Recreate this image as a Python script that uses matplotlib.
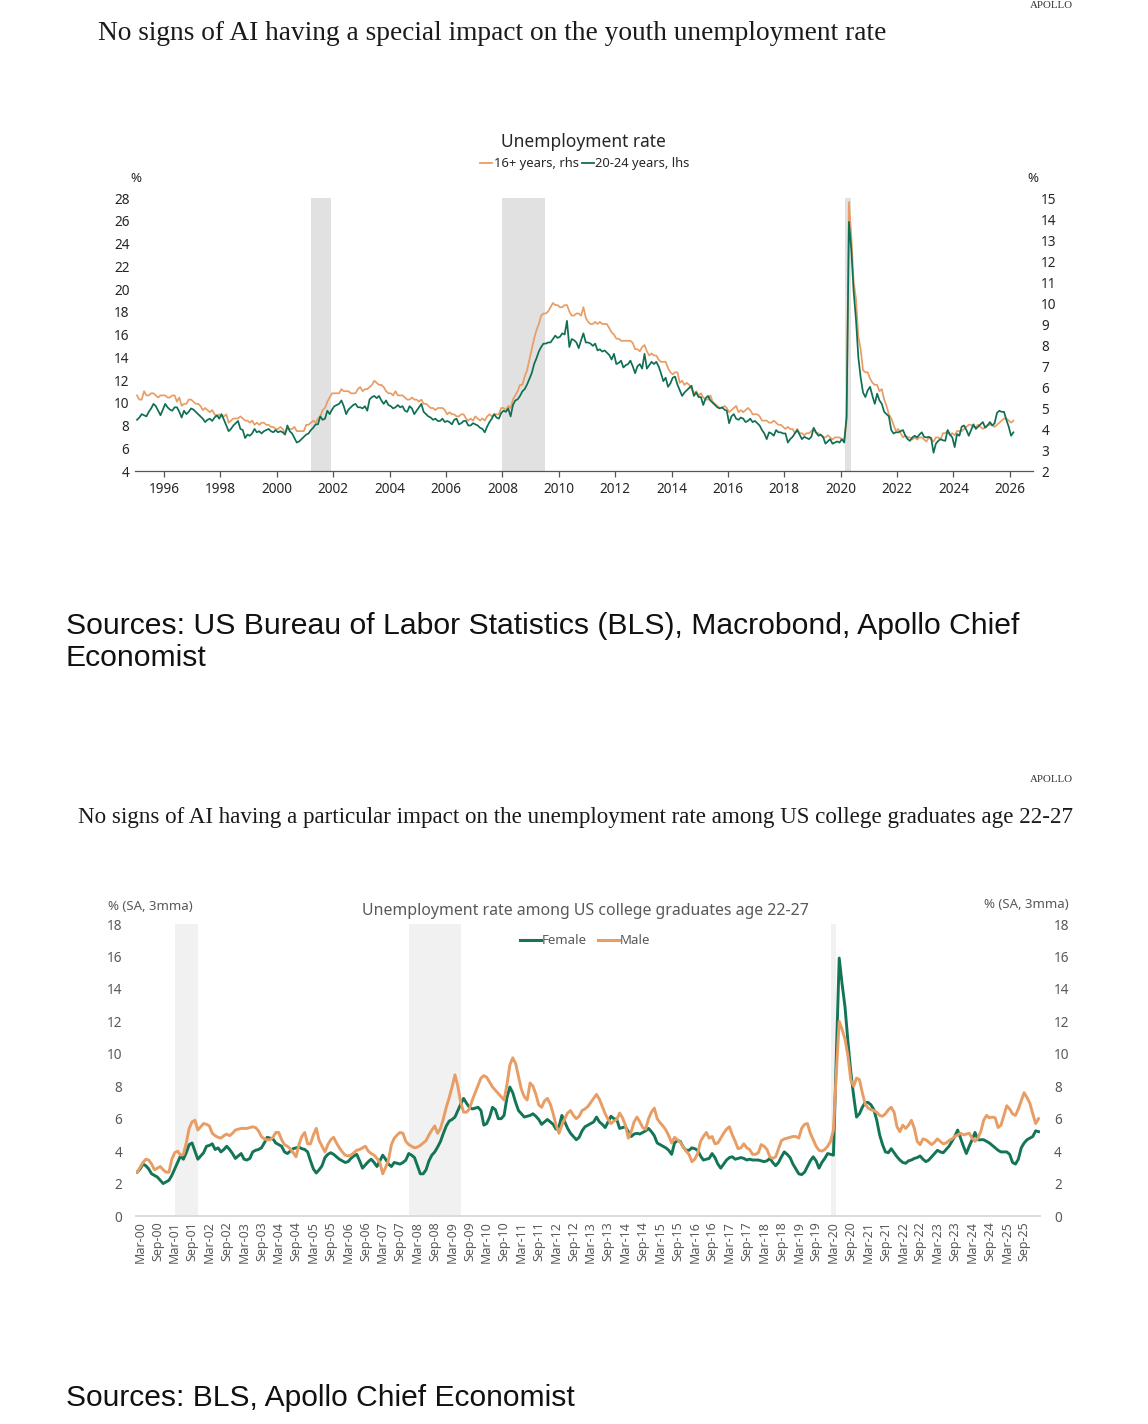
import matplotlib
matplotlib.use('Agg')
import matplotlib.pyplot as plt
from matplotlib.lines import Line2D
import numpy as np
import pandas as pd

# ---------------- DATA ----------------
# Chart 1: monthly, Jan 1995 - Feb 2026
start1 = "1995-01"
u16plus = [  # unemployment rate 16+ years (rhs)
    5.6,5.4,5.4,5.8,5.6,5.6,5.7,5.7,5.6,5.5,5.6,5.6,
    5.6,5.5,5.5,5.6,5.6,5.3,5.5,5.1,5.2,5.2,5.4,5.4,
    5.3,5.2,5.2,5.1,4.9,5.0,4.9,4.8,4.9,4.7,4.6,4.7,
    4.6,4.6,4.7,4.3,4.4,4.5,4.5,4.5,4.6,4.5,4.4,4.4,
    4.3,4.4,4.2,4.3,4.2,4.3,4.3,4.2,4.2,4.1,4.1,4.0,
    4.0,4.1,4.0,3.8,4.0,4.0,4.0,4.1,3.9,3.9,3.9,3.9,
    4.2,4.2,4.3,4.4,4.3,4.5,4.6,4.9,5.0,5.3,5.5,5.7,
    5.7,5.7,5.7,5.9,5.8,5.8,5.8,5.7,5.7,5.7,5.9,6.0,
    5.8,5.9,5.9,6.0,6.1,6.3,6.2,6.1,6.1,6.0,5.8,5.7,
    5.7,5.6,5.8,5.6,5.6,5.6,5.5,5.4,5.4,5.5,5.4,5.4,
    5.3,5.4,5.2,5.2,5.1,5.0,5.0,4.9,5.0,5.0,5.0,4.9,
    4.7,4.8,4.7,4.7,4.6,4.6,4.7,4.7,4.5,4.4,4.5,4.4,
    4.6,4.5,4.4,4.5,4.4,4.6,4.7,4.6,4.7,4.7,4.7,5.0,
    5.0,4.9,5.1,5.0,5.4,5.6,5.8,6.1,6.1,6.5,6.8,7.3,
    7.8,8.3,8.7,9.0,9.4,9.5,9.5,9.6,9.8,10.0,9.9,9.9,
    9.8,9.8,9.9,9.9,9.6,9.4,9.4,9.5,9.5,9.4,9.8,9.3,
    9.1,9.0,9.0,9.1,9.0,9.1,9.0,9.0,9.0,8.8,8.6,8.5,
    8.3,8.3,8.2,8.2,8.2,8.2,8.2,8.1,7.8,7.8,7.7,7.9,
    8.0,7.7,7.5,7.6,7.5,7.5,7.3,7.2,7.2,7.2,6.9,6.7,
    6.6,6.7,6.7,6.2,6.3,6.1,6.2,6.1,5.9,5.7,5.8,5.6,
    5.7,5.5,5.4,5.4,5.6,5.3,5.2,5.1,5.0,5.0,5.1,5.0,
    4.8,4.9,5.0,5.1,4.8,4.9,4.8,4.9,5.0,4.9,4.7,4.7,
    4.7,4.6,4.4,4.4,4.4,4.3,4.3,4.4,4.3,4.2,4.2,4.1,
    4.0,4.1,4.0,4.0,3.8,4.0,3.8,3.8,3.7,3.8,3.8,3.9,
    4.0,3.8,3.8,3.7,3.6,3.6,3.7,3.6,3.5,3.6,3.6,3.6,
    3.5,3.5,4.4,14.8,13.2,11.0,10.2,8.4,7.8,6.8,6.7,6.7,
    6.4,6.2,6.1,6.1,5.8,5.9,5.4,5.1,4.7,4.5,4.2,3.9,
    4.0,3.8,3.6,3.7,3.6,3.6,3.5,3.6,3.5,3.6,3.6,3.5,
    3.4,3.6,3.5,3.4,3.6,3.6,3.5,3.8,3.8,3.9,3.7,3.8,
    3.7,3.9,3.9,3.9,4.0,4.1,4.2,4.2,4.1,4.1,4.2,4.1,
    4.0,4.1,4.2,4.2,4.2,4.1,4.2,4.3,4.4,4.5,4.5,4.4,
    4.3,4.4,
]
u20_24 = [  # unemployment rate 20-24 years (lhs)
    8.5,8.7,9.0,8.9,8.8,9.2,9.5,9.9,9.7,9.3,8.9,9.4,
    9.9,9.6,9.4,9.3,9.6,9.6,9.2,8.7,9.3,9.0,9.2,9.5,
    9.4,9.2,9.0,8.8,8.6,8.3,8.5,8.6,8.4,8.7,8.9,8.6,
    9.0,8.5,8.0,7.5,7.7,8.0,8.2,8.4,7.7,7.6,6.9,7.2,
    7.1,7.3,7.7,7.4,7.5,7.3,7.5,7.6,7.7,7.5,7.4,7.6,
    7.4,7.5,7.4,7.2,8.0,7.5,7.3,6.9,6.5,6.6,6.8,7.0,
    7.2,7.3,7.6,7.8,8.1,8.1,8.8,8.5,8.6,9.3,9.0,9.4,
    9.7,9.8,9.9,10.2,9.7,9.0,9.4,9.6,9.8,9.9,9.6,9.6,
    9.5,9.7,9.3,10.3,10.5,10.6,10.4,10.6,10.2,9.9,10.2,9.8,
    9.7,9.5,9.6,9.8,9.6,9.7,9.3,9.2,9.7,9.5,9.0,9.3,
    9.6,9.9,9.2,9.0,8.8,8.7,8.5,8.6,8.4,8.4,8.6,8.3,
    8.4,8.3,8.1,8.5,8.6,8.1,8.2,8.4,8.4,8.0,8.0,8.2,
    8.1,8.0,7.8,7.7,7.4,7.9,8.3,8.6,9.0,8.7,8.6,9.1,
    9.3,9.2,9.5,8.8,9.8,10.2,10.3,10.6,11.0,11.2,11.6,12.1,
    12.6,13.4,13.9,14.5,14.9,15.2,15.2,15.3,15.3,15.6,15.9,15.7,
    15.8,16.1,16.0,17.2,14.9,15.6,15.5,15.3,14.8,15.5,16.1,15.3,
    15.3,15.2,15.0,15.2,14.6,14.7,14.5,14.6,14.4,14.2,13.8,14.3,
    13.4,13.5,13.7,13.1,13.3,13.4,13.7,13.2,12.6,13.2,13.4,13.0,
    14.3,13.0,13.3,13.6,13.4,13.6,13.2,12.6,11.9,12.2,11.4,11.7,
    12.2,12.3,11.6,11.1,10.6,10.9,11.1,11.3,11.5,10.6,10.9,10.5,
    10.5,9.8,10.4,10.6,10.2,10.0,9.8,9.6,9.5,9.6,9.4,9.3,
    8.2,8.8,9.0,8.6,8.5,8.7,8.6,8.3,8.4,8.6,8.3,8.4,
    8.2,8.0,7.6,7.3,6.8,7.4,7.3,7.1,7.6,7.4,7.4,7.3,
    7.3,6.5,6.8,7.0,7.3,7.6,7.2,6.8,7.0,6.9,6.8,7.0,
    7.8,7.4,7.1,7.2,7.0,6.4,6.6,6.8,6.4,6.5,6.6,6.5,
    6.8,6.5,8.8,25.9,23.5,19.8,17.3,14.0,12.2,10.9,10.5,11.1,
    11.4,10.6,9.9,10.8,10.2,9.9,9.2,9.0,8.8,7.6,7.3,7.4,
    7.4,7.5,7.6,7.1,6.8,6.65,6.95,7.1,6.95,7.2,7.4,7.0,
    6.95,7.0,6.9,5.6,6.4,6.65,6.8,6.7,6.65,7.6,7.2,6.95,
    6.1,7.25,7.1,7.9,8.0,7.6,7.1,7.6,8.1,7.7,7.9,8.1,
    8.3,7.8,8.0,8.3,8.0,8.2,9.1,9.3,9.2,9.2,8.5,7.9,
    7.1,7.4,
]
recessions1 = [(2001.23, 2001.92), (2007.98, 2009.50), (2020.14, 2020.36)]
xticks1 = list(range(1996, 2027, 2))
yticks1_left = list(range(4, 29, 2))
yticks1_right = list(range(2, 16))

# Chart 2: monthly 3mma, Feb 2000 - Feb 2026
start2 = "2000-02"
female = [
    2.7,2.9,3.2,3.1,2.9,2.6,2.5,2.4,2.2,2.0,2.1,2.2,
    2.5,2.9,3.3,3.7,3.5,3.9,4.4,4.5,4.0,3.5,3.7,3.9,
    4.3,4.35,4.45,4.1,4.2,3.95,4.1,4.3,4.1,3.85,3.55,3.7,
    3.85,3.5,3.45,3.55,3.95,4.05,4.1,4.2,4.5,4.85,4.8,4.75,
    4.5,4.4,4.3,3.95,3.85,4.0,4.15,4.2,4.25,4.15,4.1,3.95,
    3.4,2.9,2.65,2.85,3.1,3.6,3.8,3.9,3.8,3.65,3.5,3.4,
    3.3,3.35,3.55,3.7,3.8,3.4,2.95,3.15,3.35,3.5,3.3,3.05,
    3.4,3.75,3.5,3.2,3.05,3.3,3.25,3.2,3.3,3.45,3.85,3.75,
    3.6,3.1,2.6,2.6,2.85,3.4,3.75,3.95,4.25,4.6,5.1,5.55,
    5.85,5.95,6.1,6.5,6.9,7.25,6.95,6.7,6.6,6.65,6.7,6.5,
    5.6,5.7,6.1,6.7,6.55,6.0,6.0,6.2,7.3,7.95,7.6,7.0,
    6.5,6.3,6.1,6.15,6.2,6.3,6.15,5.95,5.65,5.8,5.95,5.8,
    5.65,5.35,5.5,6.2,5.8,5.4,5.1,4.9,4.7,4.85,5.25,5.5,
    5.6,5.7,5.8,6.1,5.8,5.65,5.45,5.8,6.15,6.0,5.95,5.4,
    5.45,5.5,5.2,4.9,5.05,5.1,5.05,5.15,5.25,5.4,5.2,4.95,
    4.5,4.4,4.3,4.2,4.05,3.8,4.5,4.65,4.6,4.25,4.05,4.05,
    4.2,4.15,4.05,3.7,3.45,3.5,3.55,3.85,3.6,3.2,2.95,3.2,
    3.45,3.6,3.65,3.5,3.55,3.6,3.55,3.45,3.5,3.45,3.45,3.45,
    3.4,3.35,3.4,3.55,3.3,3.1,3.3,3.65,3.95,3.8,3.6,3.2,
    2.9,2.6,2.55,2.7,3.05,3.4,3.65,3.4,2.95,3.3,3.55,3.85,
    3.8,3.75,9.8,15.9,14.3,12.9,10.8,8.9,7.4,6.1,6.3,6.7,
    7.0,7.0,6.85,6.55,5.9,5.0,4.4,3.95,3.9,4.15,3.9,3.65,
    3.45,3.3,3.25,3.4,3.45,3.55,3.6,3.7,3.5,3.35,3.45,3.65,
    3.85,4.05,3.95,3.9,4.1,4.3,4.6,4.9,5.3,4.8,4.3,3.85,
    4.3,4.7,5.15,4.7,4.7,4.7,4.6,4.5,4.35,4.2,4.05,3.95,
    3.95,3.95,3.8,3.3,3.2,3.5,4.2,4.5,4.7,4.8,4.9,5.25,
    5.2,
]
male = [
    2.7,3.0,3.3,3.5,3.45,3.2,2.85,2.95,3.05,2.85,2.7,2.7,
    3.5,3.9,4.0,3.75,3.8,4.5,5.4,5.8,5.9,5.3,5.5,5.7,
    5.65,5.55,5.1,4.95,4.85,4.8,4.95,5.05,4.95,5.1,5.3,5.35,
    5.4,5.4,5.4,5.45,5.5,5.45,5.25,4.9,4.75,4.7,4.7,4.85,
    5.15,5.15,4.7,4.4,4.3,4.15,3.9,3.65,4.4,4.9,5.15,4.45,
    4.45,5.0,5.4,4.65,4.3,3.95,4.4,4.7,4.85,4.5,4.2,3.95,
    3.75,3.7,3.75,3.9,4.05,4.1,4.2,4.3,4.0,3.85,3.75,3.55,
    3.3,2.6,3.0,3.45,4.4,4.8,5.0,5.15,5.1,4.6,4.4,4.3,
    4.2,4.25,4.35,4.5,4.65,5.0,5.3,5.55,5.1,5.4,6.0,6.7,
    7.3,7.95,8.7,8.0,7.0,6.4,6.4,6.6,7.15,7.6,8.05,8.5,
    8.65,8.55,8.25,7.95,7.75,7.55,7.35,7.15,8.1,9.3,9.75,9.4,
    8.6,7.8,7.35,7.15,8.2,8.0,7.5,6.85,6.7,7.1,7.25,6.9,
    6.3,5.6,5.1,5.6,6.0,6.35,6.5,6.2,6.0,6.15,6.5,6.6,
    6.75,7.0,7.25,7.5,7.2,6.75,6.3,5.95,5.7,5.85,5.95,6.35,
    6.05,5.6,4.8,5.2,5.8,6.1,5.8,5.45,5.35,6.0,6.4,6.65,
    6.0,5.75,5.55,5.3,4.95,4.5,4.85,4.7,4.55,4.25,4.0,3.8,
    3.35,3.5,3.85,4.6,4.9,5.15,4.8,4.9,4.45,4.5,4.8,5.1,
    5.35,5.5,5.0,4.6,4.15,4.2,4.45,4.2,4.1,3.8,3.8,3.9,
    4.4,4.3,4.1,3.65,3.55,3.65,4.15,4.65,4.75,4.8,4.85,4.9,
    4.9,4.8,5.4,5.65,5.7,5.1,4.7,4.3,4.05,4.0,4.1,4.3,
    4.6,5.3,8.8,12.0,11.5,10.9,9.9,8.4,8.0,8.5,8.4,7.6,
    6.9,6.65,6.55,6.5,6.4,6.2,6.15,6.3,6.55,6.7,6.4,5.5,
    5.2,5.6,5.4,5.6,5.9,5.4,4.6,4.4,4.75,4.7,4.55,4.4,
    4.55,4.75,4.6,4.45,4.5,4.65,4.75,4.9,5.0,5.1,5.0,5.05,
    5.1,4.8,4.6,4.8,5.2,5.9,6.2,6.05,6.1,6.05,5.45,5.6,
    6.2,6.8,6.6,6.3,6.2,6.6,7.1,7.6,7.3,6.95,6.3,5.7,
    6.0,
]
recessions2 = [("2001-03", "2001-11"), ("2007-12", "2009-06"), ("2020-02", "2020-04")]
xtick_labels2 = [f"{mon}-{yy:02d}" for yy in range(0, 26) for mon in ("Mar", "Sep")]
yticks2 = list(range(0, 19, 2))

title1 = "No signs of AI having a special impact on the youth unemployment rate"
title2 = ("No signs of AI having a particular impact on the unemployment rate "
          "among US college graduates age 22-27")
source1a = "Sources: US Bureau of Labor Statistics (BLS), Macrobond, Apollo Chief"
source1b = "Economist"
source2 = "Sources: BLS, Apollo Chief Economist"

# ---------------- STYLE ----------------
ORANGE = "#E89D64"
GREEN = "#0F6F54"
GREEN2 = "#137556"
SANS = ["Noto Sans", "DejaVu Sans"]
SERIF = ["Liberation Serif", "DejaVu Serif"]
ARIAL = ["Liberation Sans", "DejaVu Sans"]
plt.rcParams["font.family"] = SANS

W, H = 1148, 1424
fig = plt.figure(figsize=(W / 100, H / 100), dpi=100)
fig.patch.set_facecolor("white")
renderer = fig.canvas.get_renderer()


def rect(l, t, r, b):
    return [l / W, 1 - b / H, (r - l) / W, (b - t) / H]


def fx(x):
    return x / W


def fy(y):
    return 1 - y / H


def fit_text(x, y, s, width, ha="left", va="center", **kw):
    t = fig.text(fx(x), fy(y), s, ha=ha, va=va, **kw)
    for _ in range(4):
        bb = t.get_window_extent(renderer=renderer)
        t.set_fontsize(t.get_fontsize() * width / bb.width)
    return t


# ---------------- CHART 1 ----------------
dates1 = pd.period_range(start1, periods=len(u16plus), freq="M")
t1 = np.array([d.year + (d.month - 0.5) / 12 for d in dates1])

ax1 = fig.add_axes(rect(135, 198, 1033, 471))
ax1r = ax1.twinx()
ax1.set_zorder(ax1r.get_zorder() + 1)
ax1.patch.set_visible(False)

for a, b in recessions1:
    ax1r.axvspan(a, b, color="#e1e1e1", lw=0, zorder=0)
ax1r.plot(t1, u16plus, color=ORANGE, lw=1.25, zorder=3)
ax1.plot(t1, u20_24, color=GREEN, lw=1.25, zorder=3)

ax1.set_xlim(1994.97, 2026.82)
ax1.set_ylim(4, 28)
ax1r.set_ylim(2, 15)
ax1.set_xticks(xticks1)
ax1.set_xticklabels([str(x) for x in xticks1])
ax1.set_yticks(yticks1_left)
ax1r.set_yticks(yticks1_right)
for a in (ax1, ax1r):
    for s in ("top", "left", "right", "bottom"):
        a.spines[s].set_visible(False)
ax1.spines["bottom"].set_visible(True)
ax1.spines["bottom"].set_color("#555555")
ax1.spines["bottom"].set_linewidth(0.9)
ax1.tick_params(axis="x", direction="out", length=4, width=0.9, color="#555555",
                labelsize=9.8, labelcolor="#262626", pad=4)
ax1.tick_params(axis="y", length=0, pad=4, labelsize=9.8, labelcolor="#262626")
ax1r.tick_params(axis="y", length=0, pad=6, labelsize=9.8, labelcolor="#262626")

fig.text(fx(136), fy(178), "%", ha="center", va="center", fontsize=9.5, color="#262626")
fig.text(fx(1033), fy(178), "%", ha="center", va="center", fontsize=9.5, color="#262626")
fig.text(fx(583), fy(142), "Unemployment rate", ha="center", va="center",
         fontsize=12.5, color="#262626")
fig.legend(handles=[Line2D([], [], color=ORANGE, lw=1.3), Line2D([], [], color=GREEN, lw=1.3)],
           labels=["16+ years, rhs", "20-24 years, lhs"], loc="center",
           bbox_to_anchor=(fx(585), fy(164)), ncol=2, frameon=False,
           prop={"family": SANS, "size": 9.3}, handlelength=0.9, handletextpad=0.15,
           columnspacing=0.25, labelcolor="#262626")

fit_text(1073, 6, "APOLLO", 43, ha="right", family=SERIF, color="#333333")
fit_text(98, 33, title1, 791, family=SERIF, color="#1a1a1a")
fit_text(66, 626, source1a, 952, family=ARIAL, color="#111111")
fig.text(fx(66), fy(658), source1b, ha="left", va="center", family=ARIAL, color="#111111",
         fontsize=fig.texts[-1].get_fontsize())

# ---------------- CHART 2 ----------------
dates2 = pd.period_range(start2, periods=len(female), freq="M")
base2 = pd.Period("2000-03", freq="M")
m2 = np.array([(d - base2).n for d in dates2])

ax2 = fig.add_axes(rect(136, 924, 1040, 1216))
for a, b in recessions2:
    ax2.axvspan((pd.Period(a, freq="M") - base2).n, (pd.Period(b, freq="M") - base2).n,
                color="#f1f1f1", lw=0, zorder=0)
ax2.plot(m2, female, color=GREEN2, lw=2.1, zorder=3, solid_joinstyle="round")
ax2.plot(m2, male, color=ORANGE, lw=2.1, zorder=4, solid_joinstyle="round")
ax2.set_xlim(-1.4, 311.5)
ax2.set_ylim(0, 18)
ax2.set_yticks(yticks2)
ax2.set_xticks(np.arange(len(xtick_labels2)) * 6)
ax2.set_xticklabels(xtick_labels2, rotation=90, va="top", ha="center")
for s in ("top", "left", "right"):
    ax2.spines[s].set_visible(False)
ax2.spines["bottom"].set_color("#d9d9d9")
ax2.spines["bottom"].set_linewidth(1.3)
ax2.tick_params(axis="x", length=0, pad=4, labelsize=9.0, labelcolor="#595959")
ax2.tick_params(axis="y", length=0, pad=10, labelsize=9.8, labelcolor="#595959",
                labelleft=True, labelright=True)

fig.text(fx(108), fy(907), "% (SA, 3mma)", ha="left", va="center", fontsize=9.5, color="#595959")
fig.text(fx(1069), fy(904), "% (SA, 3mma)", ha="right", va="center", fontsize=9.5, color="#595959")
fit_text(585, 911, "Unemployment rate among US college graduates age 22-27", 447,
         ha="center", color="#595959")
fig.legend(handles=[Line2D([], [], color=GREEN2, lw=2.2), Line2D([], [], color=ORANGE, lw=2.2)],
           labels=["Female", "Male"], loc="center", bbox_to_anchor=(fx(585), fy(941)),
           ncol=2, frameon=False, prop={"family": SANS, "size": 9.5}, handlelength=1.6,
           handletextpad=0.05, columnspacing=0.9, labelcolor="#595959")

fit_text(1073, 779, "APOLLO", 43, ha="right", family=SERIF, color="#333333")
fit_text(78, 817, title2, 998, family=SERIF, color="#1a1a1a")
fit_text(66, 1398, source2, 509, family=ARIAL, color="#111111")

fig.savefig("out.png", dpi=100, facecolor="white")
